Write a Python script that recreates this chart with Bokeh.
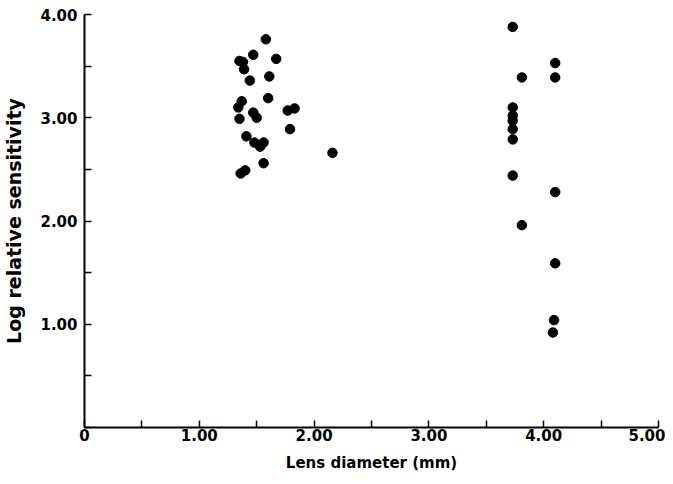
from bokeh.plotting import figure
from bokeh.models import Range1d, FixedTicker, ColumnDataSource
from bokeh.embed import file_html
from bokeh.resources import INLINE

# Lens diameter (mm) and log relative sensitivity
lens_diameter = [
    1.58, 1.47, 1.67, 1.35, 1.38, 1.39, 1.44, 1.61, 1.60, 1.37,
    1.34, 1.35, 1.47, 1.50, 1.77, 1.83, 1.79, 1.41, 1.48, 1.53,
    1.56, 1.56, 1.36, 1.40, 2.16,
    3.73, 3.73, 3.73, 3.73, 3.73, 3.73, 3.73,
    3.81, 3.81,
    4.10, 4.10, 4.10, 4.10, 4.09, 4.08,
]
log_sensitivity = [
    3.76, 3.61, 3.57, 3.55, 3.54, 3.47, 3.36, 3.40, 3.19, 3.16,
    3.10, 2.99, 3.05, 3.00, 3.07, 3.09, 2.89, 2.82, 2.76, 2.72,
    2.76, 2.56, 2.46, 2.49, 2.66,
    3.88, 3.10, 3.02, 2.97, 2.89, 2.79, 2.44,
    3.39, 1.96,
    3.53, 3.39, 2.28, 1.59, 1.04, 0.92,
]

x_major = [0, 1, 2, 3, 4, 5]
x_minor = [0.5, 1.5, 2.5, 3.5, 4.5]
x_labels = {0: "0", 1: "1.00", 2: "2.00", 3: "3.00", 4: "4.00", 5: "5.00"}
y_major = [0, 1, 2, 3, 4]
y_minor = [0.5, 1.5, 2.5, 3.5]
y_labels = {0: "", 1: "1.00", 2: "2.00", 3: "3.00", 4: "4.00"}
x_title = "Lens diameter (mm)"
y_title = "Log relative sensitivity"

FONT = "DejaVu Sans"

p = figure(width=665, height=476, output_backend="svg", toolbar_location=None,
           x_range=Range1d(0, 5), y_range=Range1d(0, 4),
           min_border_left=81, min_border_right=7, min_border_top=14,
           min_border_bottom=49)
p.outline_line_color = None
p.xgrid.visible = False
p.ygrid.visible = False
p.background_fill_color = "white"

src = ColumnDataSource(dict(x=lens_diameter, y=log_sensitivity))
p.scatter("x", "y", source=src, size=9.5, color="black")

p.xaxis.ticker = FixedTicker(ticks=x_major, minor_ticks=x_minor)
p.yaxis.ticker = FixedTicker(ticks=y_major, minor_ticks=y_minor)
p.xaxis.major_label_overrides = x_labels
p.yaxis.major_label_overrides = y_labels
p.xaxis.axis_label = x_title
p.yaxis.axis_label = y_title

for ax in (p.xaxis[0], p.yaxis[0]):
    ax.axis_line_color = "black"
    ax.axis_line_width = 2
    ax.major_tick_in = 7
    ax.major_tick_out = 0
    ax.minor_tick_in = 7
    ax.minor_tick_out = 0
    ax.major_tick_line_width = 1.5
    ax.minor_tick_line_width = 1.5
    ax.major_tick_line_color = "black"
    ax.minor_tick_line_color = "black"
    ax.major_label_text_font = FONT
    ax.major_label_text_font_size = "15px"
    ax.major_label_text_font_style = "bold"
    ax.major_label_text_color = "black"
    ax.axis_label_text_font = FONT
    ax.axis_label_text_font_style = "bold"
    ax.axis_label_text_color = "black"

p.xaxis.axis_label_text_font_size = "15px"
p.yaxis.axis_label_text_font_size = "19px"
p.xaxis.major_label_standoff = 1
p.yaxis.major_label_standoff = 7
p.xaxis.axis_label_standoff = 10
p.yaxis.axis_label_standoff = 12

open("out.html", "w").write(file_html(p, INLINE))
